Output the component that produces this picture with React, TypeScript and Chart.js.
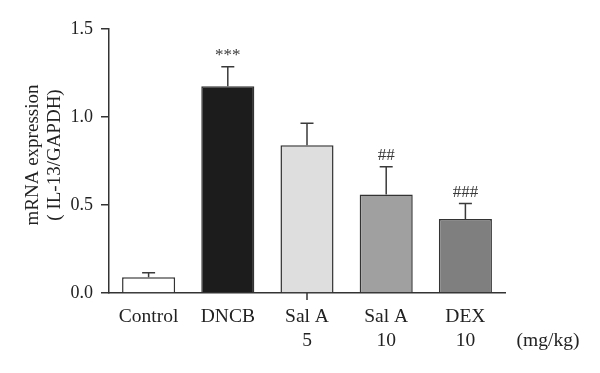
import React, { useEffect, useRef } from "react";
import { Chart, registerables } from "chart.js";

Chart.register(...registerables);

const categories: string[][] = [["Control"], ["DNCB"], ["Sal A", "5"], ["Sal A", "10"], ["DEX", "10"]];
const means: number[] = [0.09, 1.175, 0.84, 0.56, 0.42];
const errors: number[] = [0.025, 0.11, 0.125, 0.157, 0.088];
const marks: string[] = ["", "***", "", "##", "###"];
const barColors: string[] = ["#ffffff", "#1c1c1c", "#dedede", "#a0a0a0", "#7f7f7f"];
const yTicks: number[] = [0, 0.5, 1.0, 1.5];
const unitLabel = "(mg/kg)";
const yTitle: string[] = ["mRNA expression", "( IL-13/GAPDH)"];

const FONT = "'Liberation Serif', 'Times New Roman', serif";
const INK = "#333333";

const extras = {
  id: "extras",
  afterDatasetsDraw(chart: any) {
    const ctx = chart.ctx;
    const meta = chart.getDatasetMeta(0);
    const y = chart.scales.y;
    const x = chart.scales.x;
    const area = chart.chartArea;
    ctx.save();
    ctx.strokeStyle = "#3a3a3a";
    ctx.lineWidth = 1.5;
    meta.data.forEach((bar: any, i: number) => {
      const yb = y.getPixelForValue(means[i]);
      const yt = y.getPixelForValue(means[i] + errors[i]);
      ctx.beginPath();
      ctx.moveTo(bar.x, yb);
      ctx.lineTo(bar.x, yt);
      ctx.moveTo(bar.x - 6.5, yt);
      ctx.lineTo(bar.x + 6.5, yt);
      ctx.stroke();
      if (marks[i]) {
        ctx.fillStyle = "#3a3a3a";
        ctx.font = `17px ${FONT}`;
        ctx.textAlign = "center";
        ctx.textBaseline = "middle";
        ctx.fillText(marks[i], bar.x, yt - 11);
      }
    });
    // center tick below x axis
    const cx = (x.left + x.right) / 2;
    ctx.strokeStyle = INK;
    ctx.beginPath();
    ctx.moveTo(cx, area.bottom);
    ctx.lineTo(cx, area.bottom + 7);
    ctx.stroke();
    // unit label
    ctx.fillStyle = "#222";
    ctx.font = `19.5px ${FONT}`;
    ctx.textAlign = "center";
    ctx.textBaseline = "middle";
    ctx.fillText(unitLabel, area.right + 43, area.bottom + 48);
    // y title
    ctx.save();
    ctx.translate(33, (area.top + area.bottom) / 2 - 6);
    ctx.rotate(-Math.PI / 2);
    ctx.font = `19px ${FONT}`;
    ctx.fillText(yTitle[0], 0, 0);
    ctx.fillText(yTitle[1], 0, 22);
    ctx.restore();
    ctx.restore();
  },
};

export default function App() {
  const ref = useRef<HTMLCanvasElement>(null);
  useEffect(() => {
    if (!ref.current) return;
    const chart = new Chart(ref.current, {
      type: "bar",
      data: {
        labels: categories,
        datasets: [
          {
            data: means,
            backgroundColor: barColors,
            borderColor: INK,
            borderWidth: 1.5,
            categoryPercentage: 1,
            barPercentage: 0.67,
          },
        ],
      },
      options: {
        animation: false,
        responsive: false,
        maintainAspectRatio: false,
        layout: { padding: { left: 0, right: 95, top: 29, bottom: 0 } },
        plugins: { legend: { display: false }, tooltip: { enabled: false } },
        scales: {
          x: {
            grid: { display: false, drawTicks: false },
            border: { display: true, color: INK, width: 1.5 },
            ticks: {
              color: "#222",
              font: { family: FONT, size: 19.5, lineHeight: 1.23 },
              padding: 12,
              maxRotation: 0,
              autoSkip: false,
            },
            afterFit: (s: any) => {
              s.height = 80;
            },
          },
          y: {
            min: 0,
            max: 1.5,
            afterBuildTicks: (s: any) => {
              s.ticks = yTicks.map((v) => ({ value: v }));
            },
            grid: { drawOnChartArea: false, drawTicks: true, tickLength: 8, color: INK, lineWidth: 1.5 },
            border: { display: true, color: INK, width: 1.5 },
            ticks: {
              color: "#222",
              font: { family: FONT, size: 18 },
              padding: 8,
              callback: (v: any) => Number(v).toFixed(1),
            },
            afterFit: (s: any) => {
              s.width = 109;
            },
          },
        },
      },
      plugins: [extras],
    });
    return () => chart.destroy();
  }, []);
  return (
    <div style={{ position: "absolute", left: 0, top: 0, width: 600, height: 373, background: "#fff" }}>
      <canvas ref={ref} width={600} height={373} style={{ width: 600, height: 373 }} />
    </div>
  );
}
